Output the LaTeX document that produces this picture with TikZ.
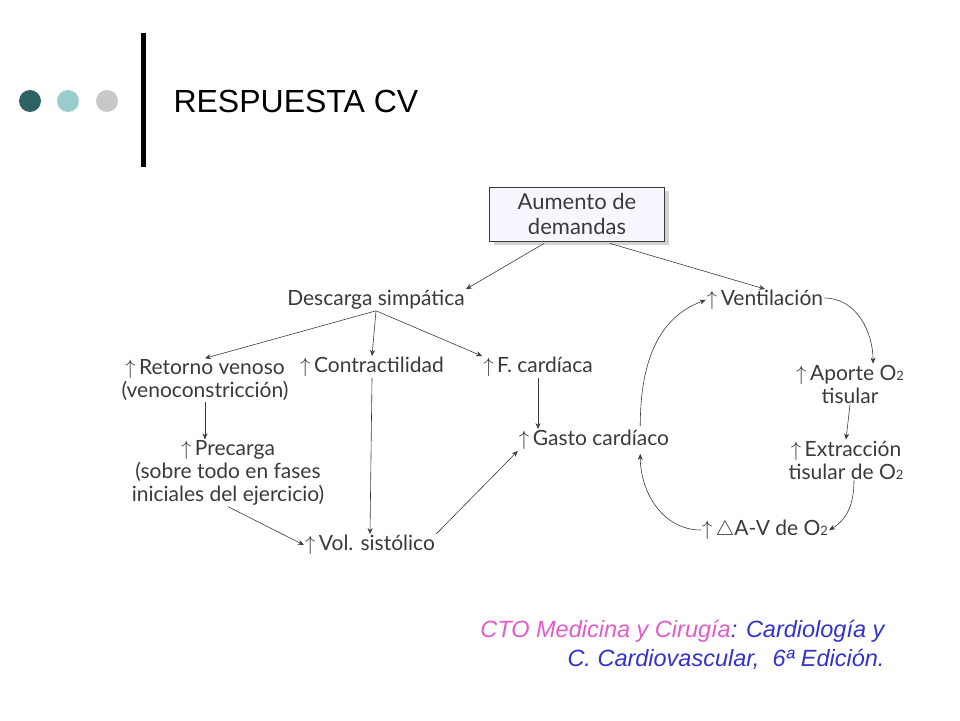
\documentclass[tikz,border=0pt]{standalone}
\usepackage{fontspec}
\setmainfont{Lato}
\newfontfamily\arialfont{Liberation Sans}
\usetikzlibrary{arrows.meta,shadows}
\definecolor{dotdark}{HTML}{2F6363}
\definecolor{dotlight}{HTML}{99CCCC}
\definecolor{dotgrey}{HTML}{C8C8C8}
\definecolor{citepink}{HTML}{E05CC8}
\definecolor{citeblue}{HTML}{3333CC}
\definecolor{inkgrey}{HTML}{3A3A3A}
\newcommand{\up}{$\uparrow$\,}
\newcommand{\Otwo}{O{\fontsize{13}{13}\selectfont 2}}
\tikzset{
	term/.style={font=\fontsize{21}{23}\selectfont, text=inkgrey, align=center, inner sep=1pt},
	flow/.style={-{Stealth[length=6pt,width=5pt]}, draw=inkgrey, line width=0.6pt},
	topbox/.style={term, font=\fontsize{22}{25}\selectfont, draw=inkgrey, fill=blue!3, line width=0.8pt, minimum width=175pt, minimum height=54pt,
		drop shadow={shadow xshift=4pt, shadow yshift=-4pt, fill=gray!70}}
}
\begin{document}
\begin{tikzpicture}[x=1pt,y=-1pt]
	\useasboundingbox (0,0) rectangle (960,720);
	% header
	\fill[dotdark] (30,101) circle (11);
	\fill[dotlight] (68,101) circle (11);
	\fill[dotgrey] (107,101) circle (11);
	\fill[black] (141,33) rectangle (146,167);
	\node[anchor=west, font=\arialfont\fontsize{32}{34}\selectfont] (title) at (170,101) {RESPUESTA CV};

	% nodes
	\node[topbox] (aumento) at (577,214) {Aumento de\\demandas};
	\node[term] (descarga) at (376,300) {Descarga simpática};
	\node[term] (ventil) at (765,300) {\up Ventilación};
	\node[term] (retorno) at (205,380) {\up Retorno venoso\\(venoconstricción)};
	\node[term] (contract) at (372,367) {\up Contractilidad};
	\node[term] (fcard) at (538,367) {\up F. cardíaca};
	\node[term] (precarga) at (228,473) {\up Precarga\\(sobre todo en fases\\iniciales del ejercicio)};
	\node[term] (gasto) at (594,440) {\up Gasto cardíaco};
	\node[term] (volsis) at (370,545) {\up Vol. sistólico};
	\node[term] (aporte) at (850,384) {\up Aporte \Otwo\\tisular};
	\node[term] (extrac) at (846,460) {\up Extracción\\tisular de \Otwo};
	\node[term] (avdif) at (765,530) {\up$\triangle$A-V de \Otwo};

	% connectors
	\draw[flow] (aumento.south west) ++(55,2) -- (descarga.north east);
	\draw[flow] (aumento.south east) ++(-55,2) -- (ventil.north);
	\draw[flow] (descarga.south) -- (retorno.north);
	\draw[flow] (descarga.south) -- (contract.north);
	\draw[flow] (descarga.south) -- (fcard.north west);
	\draw[flow] (retorno.south) -- (precarga.north -| retorno.south);
	\draw[flow] (precarga.south) -- (volsis.west);
	\draw[flow] (contract.south) -- (volsis.north);
	\draw[flow] (volsis.north east) -- (gasto.south west);
	\draw[flow] (fcard.south) -- (gasto.north -| fcard.south);
	\draw[flow] ([yshift=2pt]ventil.east) to[out=0, in=90] ([xshift=-32pt]aporte.north east);
	\draw[flow] (aporte.south) -- (extrac.north);
	\draw[flow] ([xshift=8pt]extrac.south) to[out=-90, in=30] (avdif.east);
	\draw[flow] (avdif.west) to[out=180, in=-90] ([xshift=-30pt,yshift=-3pt]gasto.south east);
	\draw[flow] ([xshift=-30pt,yshift=3pt]gasto.north east) to[out=90, in=200] (ventil.west);

	% source
	\node[anchor=east, font=\arialfont\itshape\fontsize{23.5}{26}\selectfont] (cite1) at (888,631)
		{\textcolor{citepink}{CTO Medicina y Cirugía}\textcolor{citeblue}{: Cardiología y}};
	\node[anchor=east, font=\arialfont\itshape\fontsize{23.5}{26}\selectfont, text=citeblue] (cite2) at (888,659)
		{C. Cardiovascular,~~6ª Edición.};
\end{tikzpicture}
\end{document}
